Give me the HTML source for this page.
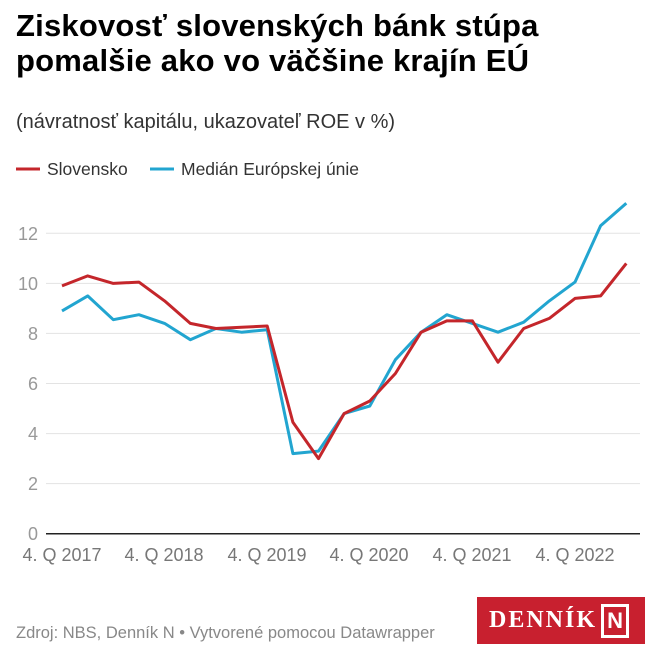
<!DOCTYPE html>
<html><head><meta charset="utf-8"><style>
body{margin:0;background:#fff;font-family:"Liberation Sans",sans-serif;}
.w{position:relative;width:660px;height:660px;overflow:hidden}
h1{position:absolute;left:16px;top:8px;margin:0;font-size:31px;line-height:35px;font-weight:bold;color:#000;letter-spacing:0.2px}
.sub{position:absolute;left:16px;top:111px;font-size:20px;color:#333}
.foot{position:absolute;left:16px;top:624px;font-size:16.5px;color:#888}
.logo{position:absolute;left:477px;top:597px;width:168px;height:47px;background:#c8202f;color:#fff;font-family:"Liberation Serif",serif;font-size:24px;font-weight:bold;letter-spacing:2px;line-height:47px;padding-left:12px;box-sizing:border-box;white-space:nowrap}
.logo span{display:inline-block;border:3px solid #fff;width:22px;height:28px;line-height:28px;text-align:center;vertical-align:middle;margin-left:4px;font-family:"Liberation Sans",sans-serif;letter-spacing:0;font-size:22px}
</style></head><body><div class="w">
<h1>Ziskovosť slovenských bánk stúpa<br>pomalšie ako vo väčšine krajín EÚ</h1>
<div class="sub">(návratnosť kapitálu, ukazovateľ ROE v %)</div>
<svg width="660" height="660" style="position:absolute;left:0;top:0" font-family="Liberation Sans, sans-serif">
<line x1="16" y1="169" x2="40" y2="169" stroke="#c4262b" stroke-width="3"/>
<text x="47" y="175" font-size="17.5" fill="#333">Slovensko</text>
<line x1="150" y1="169" x2="174" y2="169" stroke="#22a5d0" stroke-width="3"/>
<text x="181" y="175" font-size="17.5" fill="#333">Medián Európskej únie</text>
<g stroke="#e3e3e3" stroke-width="1">
<line x1="46" x2="640" y1="233.3" y2="233.3"/><line x1="46" x2="640" y1="283.4" y2="283.4"/>
<line x1="46" x2="640" y1="333.4" y2="333.4"/><line x1="46" x2="640" y1="383.5" y2="383.5"/>
<line x1="46" x2="640" y1="433.6" y2="433.6"/><line x1="46" x2="640" y1="483.6" y2="483.6"/>
</g>
<line x1="46" x2="640" y1="533.7" y2="533.7" stroke="#222" stroke-width="1.5"/>
<g font-size="18" fill="#999" text-anchor="end">
<text x="38" y="240">12</text><text x="38" y="290">10</text><text x="38" y="340">8</text>
<text x="38" y="390">6</text><text x="38" y="440">4</text><text x="38" y="490">2</text><text x="38" y="540">0</text>
</g>
<g font-size="18" fill="#777" text-anchor="middle">
<text x="62" y="561">4. Q 2017</text><text x="164" y="561">4. Q 2018</text><text x="267" y="561">4. Q 2019</text>
<text x="369" y="561">4. Q 2020</text><text x="472" y="561">4. Q 2021</text><text x="575" y="561">4. Q 2022</text>
</g>
<polyline id="eu" fill="none" stroke="#22a5d0" stroke-width="3" stroke-linejoin="round"/>
<polyline id="sk" fill="none" stroke="#c4262b" stroke-width="3" stroke-linejoin="round"/>
</svg>
<div class="foot">Zdroj: NBS, Denník N • Vytvorené pomocou Datawrapper</div>
<div class="logo">DENNÍK<span>N</span></div>
</div>
<script>
var sk=[9.9,10.3,10.0,10.05,9.3,8.4,8.2,8.25,8.3,4.45,3.0,4.8,5.3,6.4,8.05,8.5,8.5,6.85,8.2,8.6,9.4,9.5,10.8];
var eu=[8.9,9.5,8.55,8.75,8.4,7.75,8.2,8.05,8.15,3.2,3.3,4.8,5.1,6.95,8.05,8.75,8.4,8.05,8.45,9.3,10.05,12.3,13.2];
function pts(a){return a.map(function(v,i){return (62+i*25.65).toFixed(1)+","+(533.7-v*25.03).toFixed(1)}).join(" ")}
document.getElementById("sk").setAttribute("points",pts(sk));
document.getElementById("eu").setAttribute("points",pts(eu));
</script>
</body></html>
